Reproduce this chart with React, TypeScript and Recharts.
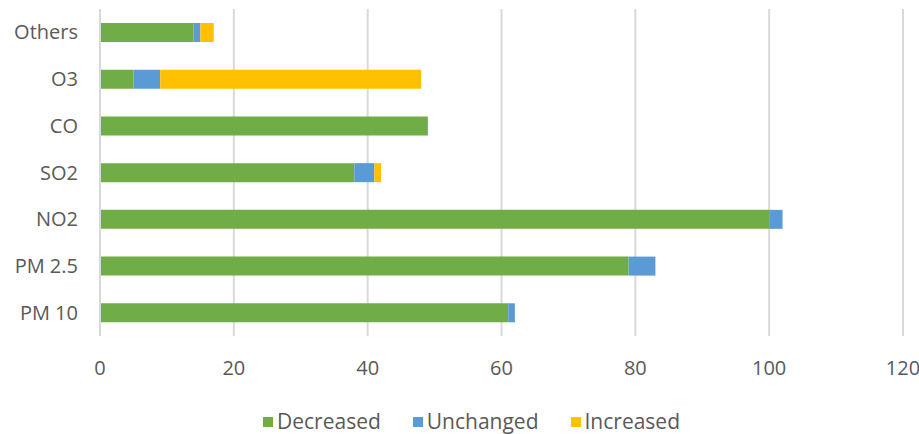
import { Bar, BarChart, CartesianGrid, Legend, XAxis, YAxis } from "recharts";

const categories = ["Others", "O3", "CO", "SO2", "NO2", "PM 2.5", "PM 10"];
const decreased = [14, 5, 49, 38, 100, 79, 61];
const unchanged = [1, 4, 0, 3, 2, 4, 1];
const increased = [2, 39, 0, 1, 0, 0, 0];
const xTicks = [0, 20, 40, 60, 80, 100, 120];

const series = [
  { key: "decreased", name: "Decreased", color: "#70ad47" },
  { key: "unchanged", name: "Unchanged", color: "#5b9bd5" },
  { key: "increased", name: "Increased", color: "#ffc000" },
];

const data = categories.map((name, i) => ({
  name,
  decreased: decreased[i],
  unchanged: unchanged[i],
  increased: increased[i],
}));

const FONT = "'Open Sans', sans-serif";
const TEXT = "#595959";

// keep legend in series order (recharts sorts payload by name otherwise)
const renderLegend = () => (
  <div
    style={{
      display: "flex",
      justifyContent: "center",
      gap: 32,
      fontFamily: FONT,
      fontSize: 21,
      lineHeight: "27px",
      color: TEXT,
      paddingLeft: 24,
    }}
  >
    {series.map((s) => (
      <div key={s.key} style={{ display: "flex", alignItems: "center" }}>
        <span style={{ width: 10, height: 10, background: s.color, marginRight: 4, display: "inline-block" }} />
        <span>{s.name}</span>
      </div>
    ))}
  </div>
);

const App = () => {
  return (
    <div style={{ position: "absolute", left: 0, top: 0, background: "#fff" }}>
      <BarChart
        width={919}
        height={434}
        data={data}
        layout="vertical"
        margin={{ top: 9, right: 16, bottom: 0, left: 0 }}
        barCategoryGap="30%"
      >
        <CartesianGrid horizontal={false} stroke="#d9d9d9" strokeWidth={2} />
        <XAxis
          type="number"
          domain={[0, 120]}
          ticks={xTicks}
          axisLine={false}
          tickLine={false}
          tickSize={0}
          tickMargin={25}
          height={71}
          tick={{ fill: TEXT, fontSize: 20, fontFamily: FONT }}
        />
        <YAxis
          type="category"
          dataKey="name"
          width={100}
          axisLine={{ stroke: "#d9d9d9", strokeWidth: 2 }}
          tickLine={false}
          tickSize={0}
          tickMargin={22}
          tick={{ fill: TEXT, fontSize: 20, fontFamily: FONT }}
        />
        <Legend
          verticalAlign="bottom"
          content={renderLegend}
          wrapperStyle={{ top: 408, left: 0, width: 919 }}
        />
        {series.map((s) => (
          <Bar
            key={s.key}
            dataKey={s.key}
            name={s.name}
            stackId="a"
            fill={s.color}
            isAnimationActive={false}
          />
        ))}
      </BarChart>
    </div>
  );
};

export default App;
